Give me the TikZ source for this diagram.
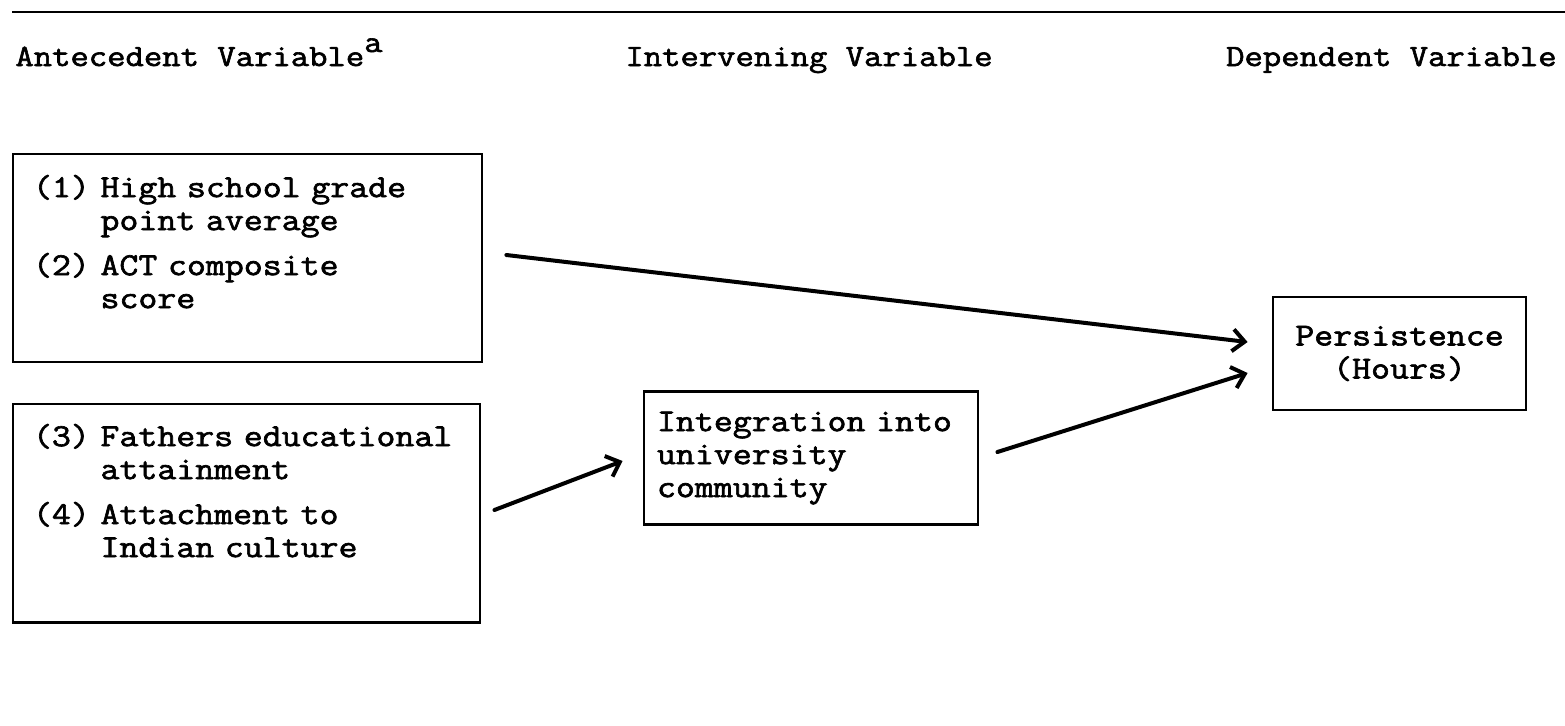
\documentclass[tikz,border=0pt]{standalone}
\usepackage{fontspec}
\newfontfamily\typewriter[FakeBold=2, FakeStretch=1.15]{Latin Modern Mono}
\usetikzlibrary{arrows.meta, positioning}

\begin{document}
\begin{tikzpicture}[
        x=0.5pt, y=-0.5pt,
        font={\typewriter\fontsize{15.5}{16.5}\selectfont},
        heading/.style={inner sep=0pt},
        varbox/.style={rectangle, draw, line width=1.4pt, inner sep=10pt, align=left, font={\typewriter\fontsize{16}{16.5}\selectfont}},
        arrow/.style={line width=2pt, line cap=round, -{Straight Barb[length=6pt, width=11pt]}}
    ]
        \useasboundingbox (0,0) rectangle (1565,725);

        % Rule and headings
        \draw [line width=1.3pt] (12,12) -- (1565,12);
        \node (antehead) [heading, anchor=base west] at (15,66) {Antecedent Variable\raisebox{7pt}{a}};
        \node (intervhead) [heading, anchor=base west] at (625,66) {Intervening Variable};
        \node (dephead) [heading, anchor=base east] at (1557,66) {Dependent Variable};

        % Antecedent variables
        \node (ability) [varbox, minimum width=234.5pt, minimum height=104pt, text width=214.5pt] at (247.5,258)
            {(1) High school grade\\\phantom{(1) }point average\\[6pt](2) ACT composite\\\phantom{(2) }score\\\mbox{}};
        \node (background) [varbox, minimum width=233.5pt, minimum height=105pt, text width=213.5pt] at (246.5,513)
            {(3) Fathers educational\\\phantom{(3) }attainment\\[6pt](4) Attachment to\\\phantom{(4) }Indian culture\\[6pt]\mbox{}};

        % Intervening and dependent variables
        \node (integration) [varbox, inner xsep=6.5pt, minimum width=167pt, minimum height=65pt, text width=154pt] at (811,458)
            {Integration into\\university\\community};
        \node (persistence) [varbox, align=center, minimum width=126.5pt, minimum height=56.5pt] at (1399.5,353.5)
            {Persistence\\(Hours)};

        % Paths
        \draw [arrow] ([xshift=11.5pt, yshift=1.5pt]ability.east) -- ([xshift=-12pt, yshift=5.75pt]persistence.west);
        \draw [arrow] ([xshift=6.5pt, yshift=1.5pt]background.east) -- ([xshift=-10pt, yshift=-1.5pt]integration.west);
        \draw [arrow] ([xshift=9pt, yshift=3pt]integration.east) -- ([xshift=-12pt, yshift=-9.75pt]persistence.west);
    \end{tikzpicture}
\end{document}
